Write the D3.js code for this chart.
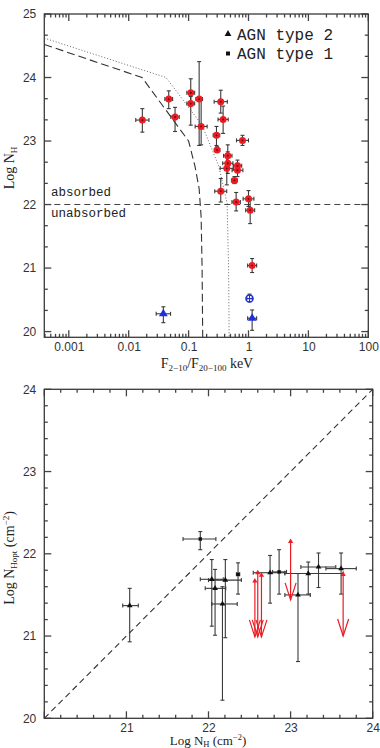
<!DOCTYPE html>
<html>
<head>
<meta charset="utf-8">
<script src="https://cdn.jsdelivr.net/npm/d3@7"></script>
<style>
  body { margin: 0; background: #fff; }
  svg { display: block; font-family: "Liberation Sans", Arial, sans-serif; }
</style>
</head>
<body>
<div id="chart"></div>
<script>
// ---- top panel: F(2-10)/F(20-100) vs log NH ----
// [ratio, x error in dex, logNH, logNH low, logNH high]
const redPoints = [
  [0.0169, 0.11, 23.33, 23.14, 23.51],
  [0.0466, 0.065, 23.66, 23.51, 23.79],
  [0.0594, 0.07, 23.38, 23.15, 23.53],
  [0.1086, 0.065, 23.76, 23.55, 23.98],
  [0.1086, 0.065, 23.59, 23.25, 23.70],
  [0.150, 0.055, 23.66, 22.93, 24.25],
  [0.162, 0.10, 23.23, 22.94, 23.65],
  [0.344, 0.11, 23.62, 23.44, 23.80],
  [0.377, 0.085, 23.34, 23.12, 23.55],
  [0.292, 0.055, 23.09, 22.93, 23.23],
  [0.299, 0.045, 22.86, 22.83, 22.91],
  [0.794, 0.10, 23.01, 22.93, 23.09],
  [0.451, 0.07, 22.77, 22.57, 22.94],
  [0.451, 0.085, 22.65, 22.49, 22.83],
  [0.434, 0.11, 22.57, 22.31, 22.75],
  [0.655, 0.07, 22.61, 22.52, 22.70],
  [0.655, 0.09, 22.54, 22.44, 22.65],
  [0.583, 0.05, 22.38, 22.33, 22.44],
  [0.344, 0.10, 22.21, 22.04, 22.41],
  [0.622, 0.07, 22.04, 21.90, 22.19],
  [1.0, 0.09, 22.09, 21.97, 22.22],
  [1.066, 0.075, 21.91, 21.70, 22.07],
  [1.15, 0.075, 21.04, 20.93, 21.15]
];
// [ratio, x error in dex, logNH, low, high, kind]
const bluePoints = [
  [0.0379, 0.12, 20.28, 20.14, 20.39, "tri"],
  [1.15, 0.075, 20.21, 20.02, 20.34, "tri"],
  [1.04, 0.045, 20.52, 20.47, 20.59, "circ"]
];
// model curves [ratio, logNH]
const dashedCurve = [[0.00039, 24.52], [0.0167, 24.0], [0.1, 23.0], [0.128, 22.6], [0.15, 22.25], [0.162, 21.8], [0.168, 21.0], [0.172, 19.91]];
const dottedCurve = [[0.00039, 24.62], [0.042, 24.0], [0.168, 23.25], [0.32, 22.6], [0.44, 22.02], [0.465, 21.0], [0.475, 19.91]];
const splitNH = 22;
const topXTicks = [0.001, 0.01, 0.1, 1, 10, 100];
const topYTicks = [20, 21, 22, 23, 24, 25];
const legendItems = [["AGN type 2", "tri"], ["AGN type 1", "sq"]];

// ---- bottom panel: log NH (X) vs log NH (optical) ----
// [NHx, NHx low, NHx high, NHopt, NHopt low, NHopt high, kind]
const blackPoints = [
  [21.04, 20.955, 21.145, 21.37, 20.93, 21.58, "tri"],
  [21.90, 21.69, 22.09, 22.18, 22.05, 22.27, "sq"],
  [22.04, 21.90, 22.18, 21.69, 21.12, 21.93, "tri"],
  [22.08, 21.96, 22.21, 21.58, 21.01, 21.81, "tri"],
  [22.205, 22.00, 22.40, 21.68, 20.98, 21.93, "tri"],
  [22.17, 22.04, 22.35, 21.39, 20.22, 21.60, "tri"],
  [22.36, 22.34, 22.38, 21.75, 21.51, 21.89, "sq"],
  [22.75, 22.545, 22.93, 21.77, 21.40, 21.98, "tri"],
  [22.86, 22.78, 22.95, 21.78, 21.51, 22.05, "sq"],
  [23.09, 22.93, 23.24, 21.50, 20.69, 21.76, "tri"],
  [23.215, 22.93, 23.64, 21.76, 21.51, 21.90, "tri"],
  [23.34, 23.125, 23.55, 21.84, 21.59, 22.01, "tri"],
  [23.615, 23.43, 23.80, 21.82, 21.51, 22.01, "tri"]
];
// upper limits [NHx, NHopt, arrow end]
const upperLimits = [
  [22.565, 21.67, 20.99],
  [22.60, 21.77, 20.99],
  [22.645, 21.74, 20.99],
  [23.0, 22.15, 21.44],
  [23.64, 21.75, 21.0]
];
const botXTicks = [21, 22, 23, 24];
const botYTicks = [20, 21, 22, 23, 24];

const W = 380, H = 748;
const ink = "#3a3a3a";
const red = "#ec1c24";
const blue = "#1f2fd8";

const svg = d3.select("#chart").append("svg")
  .attr("width", W).attr("height", H)
  .attr("viewBox", [0, 0, W, H]);

const symbol = (kind, size) => d3.symbol()
  .type(kind === "sq" ? d3.symbolSquare : d3.symbolTriangle)
  .size(size)();

// inward ticks on all four sides, PGPLOT style
function frame(g, x, y, majX, minX, majY, minY, labelsX, labelsY, padX) {
  const [x0, x1] = x.range();
  const [y0, y1] = y.range();

  g.append("g").attr("transform", `translate(0,${y0})`)
    .call(d3.axisBottom(x).tickValues(labelsX).tickSize(0).tickPadding(padX).tickFormat(d => String(d)))
    .call(a => a.select(".domain").remove())
    .selectAll("text").attr("font-size", 12).attr("fill", "#333");
  g.append("g").attr("transform", `translate(${x0},0)`)
    .call(d3.axisLeft(y).tickValues(labelsY).tickSize(0).tickPadding(8).tickFormat(d => String(d)))
    .call(a => a.select(".domain").remove())
    .selectAll("text").attr("font-size", 12).attr("fill", "#333");

  const tk = g.append("g").attr("stroke", "#444").attr("stroke-width", 1.3);
  const mk = (vals, len, horiz) => {
    vals.forEach(v => {
      if (horiz) {
        const px = x(v);
        tk.append("line").attr("x1", px).attr("x2", px).attr("y1", y0).attr("y2", y0 - len);
        tk.append("line").attr("x1", px).attr("x2", px).attr("y1", y1).attr("y2", y1 + len);
      } else {
        const py = y(v);
        tk.append("line").attr("y1", py).attr("y2", py).attr("x1", x0).attr("x2", x0 + len);
        tk.append("line").attr("y1", py).attr("y2", py).attr("x1", x1).attr("x2", x1 - len);
      }
    });
  };
  mk(majX, 7, true);
  mk(minX, 3.5, true);
  mk(majY, 7, false);
  mk(minY, 3.5, false);

  g.append("rect")
    .attr("x", x0).attr("y", y1)
    .attr("width", x1 - x0).attr("height", y0 - y1)
    .attr("fill", "none").attr("stroke", ink).attr("stroke-width", 1.3);
}

function errorBars(g, rows, cap) {
  const e = g.append("g").attr("stroke", ink).attr("stroke-width", 1.1).attr("fill", "none");
  rows.forEach(r => {
    e.append("line").attr("x1", r.xl).attr("x2", r.xh).attr("y1", r.y).attr("y2", r.y);
    e.append("line").attr("x1", r.x).attr("x2", r.x).attr("y1", r.yl).attr("y2", r.yh);
    e.append("line").attr("x1", r.xl).attr("x2", r.xl).attr("y1", r.y - cap).attr("y2", r.y + cap);
    e.append("line").attr("x1", r.xh).attr("x2", r.xh).attr("y1", r.y - cap).attr("y2", r.y + cap);
    e.append("line").attr("x1", r.x - cap).attr("x2", r.x + cap).attr("y1", r.yl).attr("y2", r.yl);
    e.append("line").attr("x1", r.x - cap).attr("x2", r.x + cap).attr("y1", r.yh).attr("y2", r.yh);
  });
}

// ================= top panel =================
const xT = d3.scaleLog().domain([0.00039, 100]).range([44.3, 368.3]);
const yT = d3.scaleLinear().domain([19.91, 25]).range([337.3, 14]);
const topG = svg.append("g");

const logMinors = [];
for (let e = -4; e <= 1; e++) {
  for (let m = 2; m <= 9; m++) {
    const v = m * Math.pow(10, e);
    if (v > 0.00039 && v < 100) logMinors.push(v);
  }
}
const thirds = [];
topYTicks.slice(0, -1).forEach(k => { thirds.push(k + 1 / 3, k + 2 / 3); });

frame(topG, xT, yT, topXTicks, logMinors, topYTicks, thirds, topXTicks, topYTicks, 5);

const line = d3.line().x(d => xT(d[0])).y(d => yT(d[1]));
topG.append("path").datum(dashedCurve).attr("d", line)
  .attr("fill", "none").attr("stroke", "#333").attr("stroke-width", 1.1)
  .attr("stroke-dasharray", "8,4");
topG.append("path").datum(dottedCurve).attr("d", line)
  .attr("fill", "none").attr("stroke", "#555").attr("stroke-width", 0.9)
  .attr("stroke-dasharray", "1,2");
topG.append("line")
  .attr("x1", xT.range()[0]).attr("x2", xT.range()[1])
  .attr("y1", yT(splitNH)).attr("y2", yT(splitNH))
  .attr("stroke", "#444").attr("stroke-width", 1.1).attr("stroke-dasharray", "6,4");

topG.append("text").attr("x", 51).attr("y", 196)
  .attr("font-family", "Liberation Mono, monospace").attr("font-size", 12.5).attr("fill", "#222")
  .text("absorbed");
topG.append("text").attr("x", 51).attr("y", 217)
  .attr("font-family", "Liberation Mono, monospace").attr("font-size", 12.5).attr("fill", "#222")
  .text("unabsorbed");

const toRows = pts => pts.map(p => ({
  x: xT(p[0]), y: yT(p[2]),
  xl: xT(p[0] / Math.pow(10, p[1])), xh: xT(p[0] * Math.pow(10, p[1])),
  yl: yT(p[3]), yh: yT(p[4])
}));
errorBars(topG, toRows(redPoints), 2);
errorBars(topG, toRows(bluePoints), 2);

topG.append("g").selectAll("circle").data(redPoints).join("circle")
  .attr("cx", d => xT(d[0])).attr("cy", d => yT(d[2])).attr("r", 3.5)
  .attr("fill", red);
topG.append("g").selectAll("circle").data(redPoints).join("circle")
  .attr("cx", d => xT(d[0])).attr("cy", d => yT(d[2])).attr("r", 0.9)
  .attr("fill", "#600");

bluePoints.forEach(p => {
  const cx = xT(p[0]), cy = yT(p[2]);
  if (p[5] === "circ") {
    topG.append("circle").attr("cx", cx).attr("cy", cy).attr("r", 3.6)
      .attr("fill", "none").attr("stroke", blue).attr("stroke-width", 1.4);
    topG.append("path").attr("d", `M${cx - 3.6},${cy}H${cx + 3.6}M${cx},${cy - 3.6}V${cy + 3.6}`)
      .attr("stroke", blue).attr("stroke-width", 0.9);
  } else {
    topG.append("path").attr("d", symbol("tri", 34))
      .attr("transform", `translate(${cx},${cy})`).attr("fill", blue);
  }
});

// legend
legendItems.forEach((it, i) => {
  const ly = 34 + i * 19.5;
  topG.append("path").attr("d", symbol(it[1], it[1] === "sq" ? 16 : 20))
    .attr("transform", `translate(228,${ly})`).attr("fill", "#111");
  topG.append("text").attr("x", 237).attr("y", ly + 5.5)
    .attr("font-family", "Liberation Mono, monospace").attr("font-size", 16).attr("fill", "#222")
    .text(it[0]);
});

// axis titles
const tx = topG.append("text").attr("x", 207).attr("y", 368)
  .attr("text-anchor", "middle").attr("font-family", "Liberation Serif, serif")
  .attr("font-size", 14).attr("fill", "#222");
tx.append("tspan").text("F");
tx.append("tspan").attr("font-size", 9).attr("dy", 2.5).text("2\u221210");
tx.append("tspan").attr("dy", -2.5).text("/F");
tx.append("tspan").attr("font-size", 9).attr("dy", 2.5).text("20\u2212100");
tx.append("tspan").attr("dy", -2.5).text(" keV");

const ty = topG.append("text").attr("transform", "translate(14,168) rotate(-90)")
  .attr("text-anchor", "middle").attr("font-family", "Liberation Serif, serif")
  .attr("font-size", 14).attr("fill", "#222");
ty.append("tspan").text("Log N");
ty.append("tspan").attr("font-size", 9).attr("dy", 3).text("H");

// ================= bottom panel =================
const xB = d3.scaleLinear().domain([20, 24]).range([44.3, 372.7]);
const yB = d3.scaleLinear().domain([20, 24]).range([718.3, 389.3]);
const botG = svg.append("g");

const fifths = d3.range(20, 24, 0.2).map(v => +v.toFixed(1)).filter(v => v % 1 !== 0);
frame(botG, xB, yB, botYTicks, fifths, botYTicks, fifths, botXTicks, botYTicks, 5);

botG.append("line")
  .attr("x1", xB(20)).attr("y1", yB(20)).attr("x2", xB(24)).attr("y2", yB(24))
  .attr("stroke", "#333").attr("stroke-width", 1.1).attr("stroke-dasharray", "6,4");

errorBars(botG, blackPoints.map(p => ({
  x: xB(p[0]), y: yB(p[3]), xl: xB(p[1]), xh: xB(p[2]), yl: yB(p[4]), yh: yB(p[5])
})), 2);

botG.append("g").selectAll("path").data(blackPoints).join("path")
  .attr("d", d => symbol(d[6], d[6] === "sq" ? 12 : 14))
  .attr("transform", d => `translate(${xB(d[0])},${yB(d[3])})`)
  .attr("fill", "#111");

const arr = botG.append("g").attr("stroke", red).attr("stroke-width", 1.2).attr("fill", "none");
upperLimits.forEach(u => {
  const x = xB(u[0]), y1 = yB(u[1]), y2 = yB(u[2]);
  arr.append("line").attr("x1", x).attr("x2", x).attr("y1", y1).attr("y2", y2);
  arr.append("path").attr("d", `M${x - 5.5},${y2 - 17}L${x},${y2}L${x + 5.5},${y2 - 17}`);
  botG.append("path").attr("d", symbol("tri", 12))
    .attr("transform", `translate(${x},${y1})`).attr("fill", red);
});

const bx = botG.append("text").attr("x", 208).attr("y", 745)
  .attr("text-anchor", "middle").attr("font-family", "Liberation Serif, serif")
  .attr("font-size", 13).attr("fill", "#222");
bx.append("tspan").text("Log N");
bx.append("tspan").attr("font-size", 8.5).attr("dy", 2).text("H");
bx.append("tspan").attr("dy", -2).text("  (cm");
bx.append("tspan").attr("font-size", 8.5).attr("dy", -5).text("\u22122");
bx.append("tspan").attr("dy", 5).text(")");

const by = botG.append("text").attr("transform", "translate(14,558) rotate(-90)")
  .attr("text-anchor", "middle").attr("font-family", "Liberation Serif, serif")
  .attr("font-size", 14).attr("fill", "#222");
by.append("tspan").text("Log N");
by.append("tspan").attr("font-size", 9).attr("dy", 3).text("Hopt");
by.append("tspan").attr("dy", -3).text("  (cm");
by.append("tspan").attr("font-size", 9).attr("dy", -5).text("\u22122");
by.append("tspan").attr("dy", 5).text(")");
</script>
</body>
</html>
